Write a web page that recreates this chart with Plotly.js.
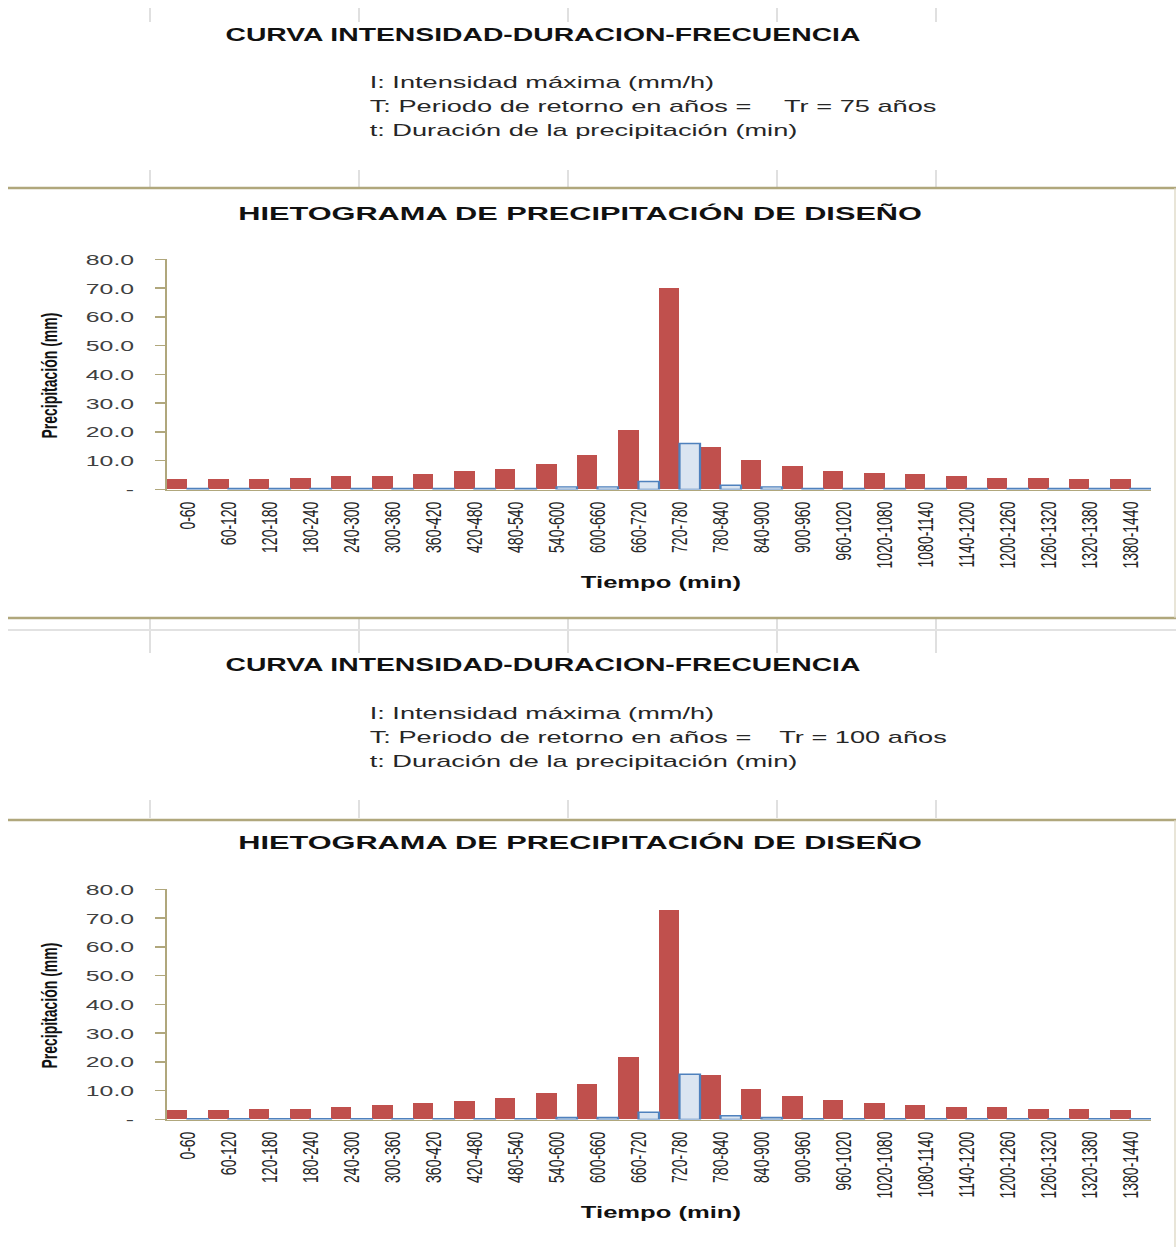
<!DOCTYPE html>
<html><head><meta charset="utf-8">
<script src="https://cdn.plot.ly/plotly-3.0.1.min.js"></script>
<style>
html,body{margin:0;padding:0;background:#fff;overflow:hidden;width:1176px;height:1247px}
#wrap{width:735px;height:1247px;transform:scaleX(1.6);transform-origin:0 0;}
</style></head>
<body><div id="wrap"></div>
<script>
// ---- data ----
const intervals = ['0-60','60-120','120-180','180-240','240-300','300-360','360-420','420-480','480-540','540-600','600-660','660-720','720-780','780-840','840-900','900-960','960-1020','1020-1080','1080-1140','1140-1200','1200-1260','1260-1320','1320-1380','1380-1440'];
const rainTr75  = [3.6,3.6,3.6,4.1,4.7,4.7,5.4,6.5,7.2,8.9,11.9,20.7,70.0,14.7,10.1,8.3,6.5,5.9,5.4,4.7,4.1,4.1,3.6,3.6];
const serie2Tr75 = [0.4,0.4,0.4,0.4,0.4,0.4,0.4,0.4,0.4,0.9,0.9,2.8,16.0,1.5,0.9,0.4,0.4,0.4,0.4,0.4,0.4,0.4,0.4,0.4];
const rainTr100 = [3.2,3.2,3.8,3.8,4.5,5.1,5.7,6.3,7.5,9.3,12.3,21.8,72.8,15.3,10.5,8.0,6.9,5.9,5.1,4.5,4.5,3.8,3.8,3.2];
const serie2Tr100 = [0.3,0.3,0.3,0.3,0.3,0.3,0.3,0.3,0.3,0.7,0.7,2.5,15.7,1.3,0.7,0.3,0.3,0.3,0.3,0.3,0.3,0.3,0.3,0.3];
const yTickVals = [0,10,20,30,40,50,60,70,80];
const yTickText = ['-','10.0','20.0','30.0','40.0','50.0','60.0','70.0','80.0'];
const returnPeriods = ['Tr = 75 años','Tr = 100 años'];

// ---- helpers (reference pixel -> paper) ----
const FW = 1176, FH = 1247, SX = 1.6;
const px = x => x / FW;
const py = y => 1 - y / FH;
const FONT = 'Liberation Sans, Arial, sans-serif';
const OLIVE = '#b0a77c';
const GREY = '#d9d9d9';

const redStyle = {color:'#c0504d', line:{width:0}};
const blueStyle = {color:'#dbe5f1', line:{color:'#4f81bd', width:1.4}};

const traces = [
  {type:'bar', x:intervals, y:rainTr75, marker:redStyle, xaxis:'x', yaxis:'y', name:'Precipitación', showlegend:false},
  {type:'bar', x:intervals, y:serie2Tr75, marker:blueStyle, xaxis:'x', yaxis:'y', name:'Serie 2', showlegend:false},
  {type:'bar', x:intervals, y:rainTr100, marker:redStyle, xaxis:'x2', yaxis:'y2', name:'Precipitación', showlegend:false},
  {type:'bar', x:intervals, y:serie2Tr100, marker:blueStyle, xaxis:'x2', yaxis:'y2', name:'Serie 2', showlegend:false}
];

const xDom = [px(167), px(1151)];
function xAx(anchor){
  return {domain:xDom, anchor:anchor, type:'category', showline:true, linecolor:OLIVE, linewidth:1.5,
    ticks:'', showgrid:false, zeroline:false, tickangle:-90, ticklabelstandoff:5,
    tickfont:{family:FONT, size:14, color:'#262626'}, fixedrange:true};
}
function yAx(anchor, top, bottom){
  return {domain:[py(bottom), py(top)], anchor:anchor, range:[0,80], tickvals:yTickVals, ticktext:yTickText,
    showline:true, linecolor:OLIVE, linewidth:1.5, ticks:'outside', ticklen:6, tickwidth:1.5, tickcolor:OLIVE,
    showgrid:false, zeroline:false, ticklabelstandoff:10,
    tickfont:{family:FONT, size:15.5, color:'#404040'}, fixedrange:true};
}

const annotations = [];
const shapes = [];
function addBlock(off, tr){
  annotations.push({text:'<b>CURVA INTENSIDAD-DURACION-FRECUENCIA</b>', x:px(543.5), y:py(35+off), xref:'paper', yref:'paper',
    xanchor:'center', yanchor:'middle', showarrow:false, font:{family:FONT, size:17.7, color:'#111'}});
  const lines = ['I: Intensidad máxima (mm/h)','T: Periodo de retorno en años =','t: Duración de la precipitación (min)'];
  lines.forEach((t,i)=>annotations.push({text:t, x:px(366), y:py(83+24*i+off), xref:'paper', yref:'paper',
    xanchor:'left', yanchor:'middle', showarrow:false, font:{family:FONT, size:17, color:'#262626'}}));
  annotations.push({text:tr, x:px(off? 776:780), y:py(107+off), xref:'paper', yref:'paper',
    xanchor:'left', yanchor:'middle', showarrow:false, font:{family:FONT, size:17, color:'#262626'}});
  annotations.push({text:'<b>HIETOGRAMA DE PRECIPITACIÓN DE DISEÑO</b>', x:px(579.5), y:py(213+off), xref:'paper', yref:'paper',
    xanchor:'center', yanchor:'middle', showarrow:false, font:{family:FONT, size:19.2, color:'#111'}});
  annotations.push({text:'<b>Tiempo (min)</b>', x:px(661), y:py(582+off), xref:'paper', yref:'paper',
    xanchor:'center', yanchor:'middle', showarrow:false, font:{family:FONT, size:16, color:'#111'}});
  annotations.push({text:'<b>Precipitación (mm)</b>', x:px(49), y:py(376+off), xref:'paper', yref:'paper', textangle:-90,
    xanchor:'center', yanchor:'middle', showarrow:false, font:{family:FONT, size:14, color:'#111'}});
}
addBlock(0, returnPeriods[0]);
addBlock(630, returnPeriods[1]);

// cell grid lines (spreadsheet background)
const colX = [150,359,568,777,936];
const segs = [[8,22],[170,187],[618,653],[800,818]];
colX.forEach(x=>segs.forEach(s=>shapes.push({type:'line', xref:'paper', yref:'paper', x0:px(x), x1:px(x), y0:py(s[0]), y1:py(s[1]), line:{color:GREY, width:1}})));
shapes.push({type:'line', xref:'paper', yref:'paper', x0:px(8), x1:1, y0:py(630), y1:py(630), line:{color:'#e2e2e2', width:2}});
// chart frames
[188,618,820].forEach(y=>shapes.push({type:'line', xref:'paper', yref:'paper', x0:px(8), x1:1, y0:py(y), y1:py(y), line:{color:OLIVE, width:2.5}}));
[[188,618],[820,1247]].forEach(s=>shapes.push({type:'line', xref:'paper', yref:'paper', x0:px(1175), x1:px(1175), y0:py(s[0]), y1:py(s[1]), line:{color:'#dcd7c2', width:0.8}}));

const layout = {
  width: FW/SX, height: FH, margin:{l:0,r:0,t:0,b:0}, paper_bgcolor:'#fff', plot_bgcolor:'rgba(0,0,0,0)',
  barmode:'group', bargap:0, bargroupgap:0, showlegend:false,
  xaxis: xAx('y'), yaxis: yAx('x', 259.3, 489.5),
  xaxis2: xAx('y2'), yaxis2: yAx('x2', 889.3, 1119.5),
  annotations, shapes, font:{family:FONT}
};
Plotly.newPlot('wrap', traces, layout, {displayModeBar:false, staticPlot:true});
</script></body></html>
